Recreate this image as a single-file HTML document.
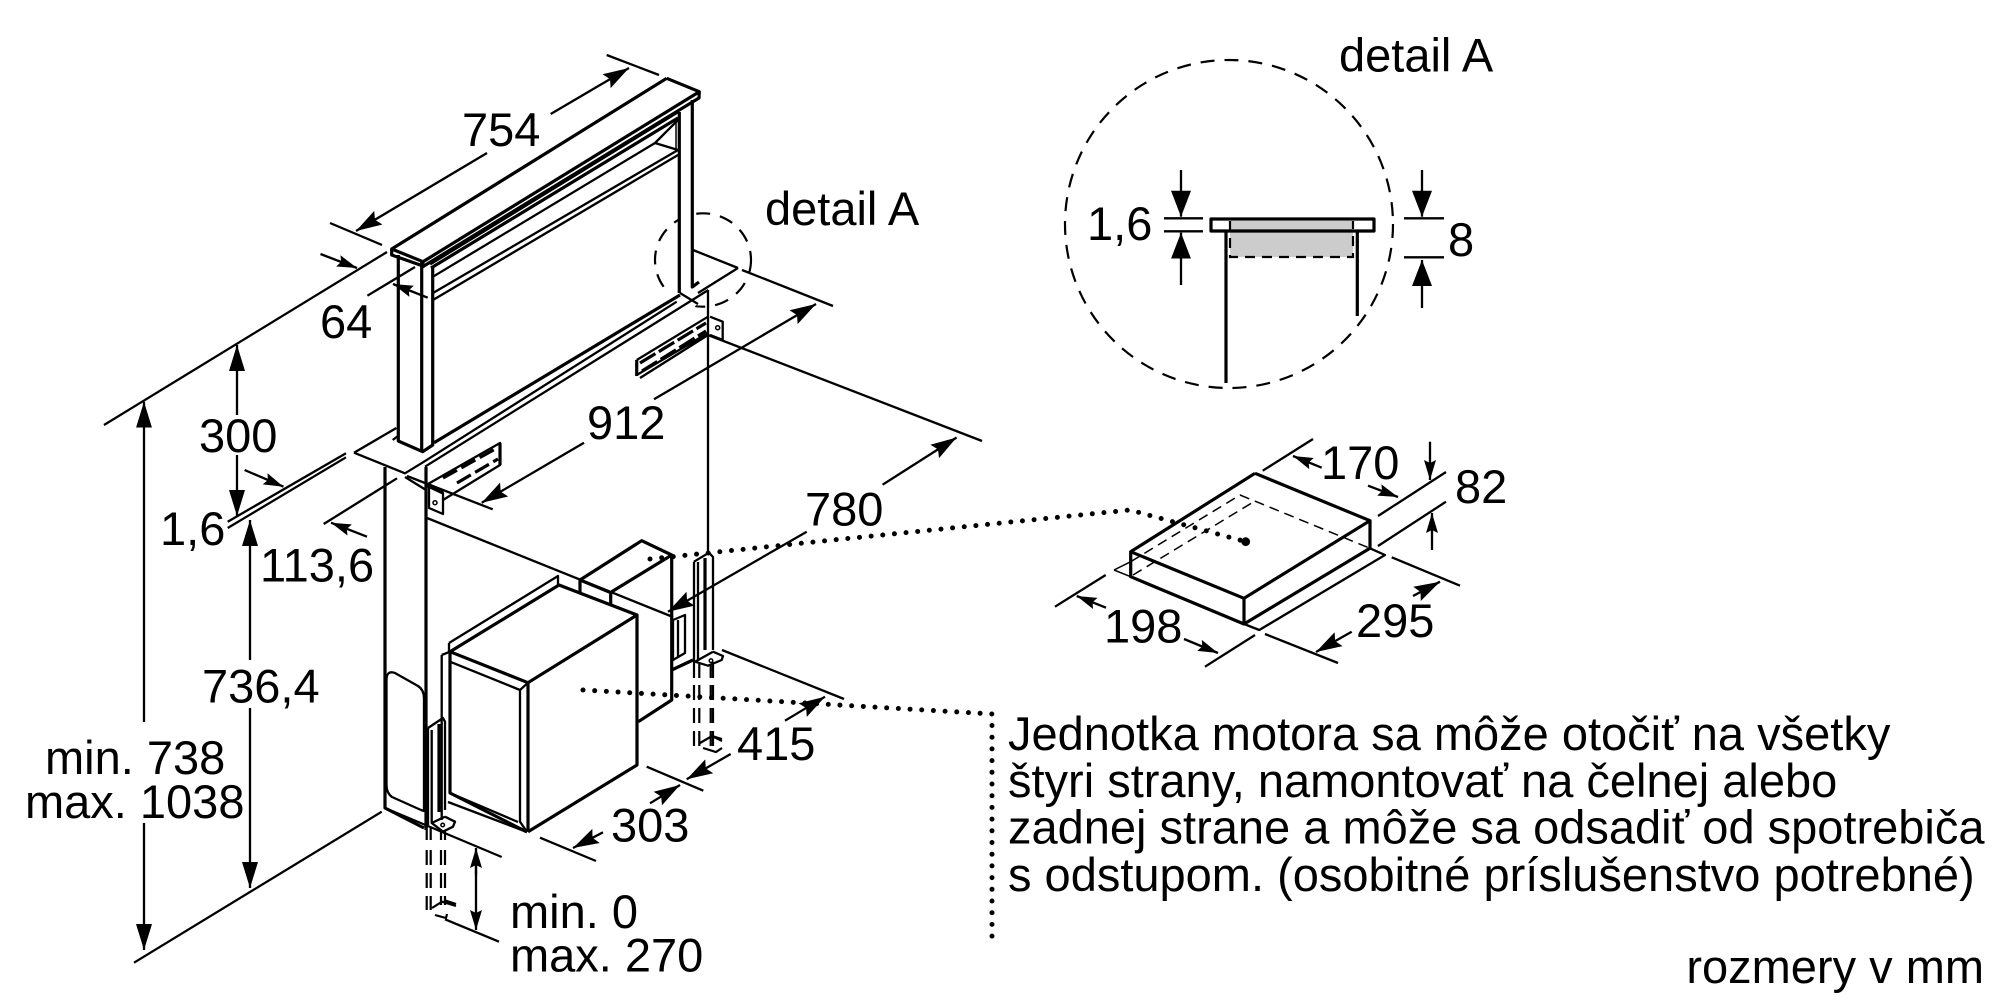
<!DOCTYPE html>
<html><head><meta charset="utf-8"><title>detail</title>
<style>
html,body{margin:0;padding:0;background:#fff;width:2000px;height:1000px;overflow:hidden}
svg{display:block}
text{font-family:"Liberation Sans",Arial,sans-serif;font-size:47px;fill:#000}
.k{stroke:#000;fill:none;stroke-width:3.2;stroke-linejoin:round}
.t{stroke:#000;fill:none;stroke-width:2.3;stroke-linejoin:round}
.h{stroke:#000;fill:none;stroke-width:1.5}
.d{stroke:#000;fill:none;stroke-width:2.2}
.o{stroke:#000;fill:none;stroke-width:5;stroke-linecap:round;stroke-dasharray:0 11.7}
</style></head><body>
<svg width="2000" height="1000" viewBox="0 0 2000 1000" xmlns="http://www.w3.org/2000/svg">
<defs>
<marker id="b" markerUnits="userSpaceOnUse" markerWidth="30" markerHeight="22" refX="26" refY="11" orient="auto"><path d="M0,3 L26,11 L0,19 L4,11z" fill="#000"/></marker>
<marker id="v" markerUnits="userSpaceOnUse" markerWidth="30" markerHeight="22" refX="26" refY="11" orient="auto"><path d="M0,3 L26,11 L0,19z" fill="#000"/></marker>
<marker id="s" markerUnits="userSpaceOnUse" markerWidth="24" markerHeight="16" refX="20" refY="8" orient="auto"><path d="M0,2 L20,8 L0,14 L3,8z" fill="#000"/></marker>
<marker id="w" markerUnits="userSpaceOnUse" markerWidth="30" markerHeight="26" refX="26" refY="13" orient="auto"><path d="M0,3 L26,13 L0,23z" fill="#000"/></marker>
</defs>

<!-- small detail A circle -->
<ellipse cx="703" cy="260" rx="48" ry="46.7" class="d" stroke-dasharray="14 10"/>
<rect x="680" y="200" width="12" height="90" fill="#fff"/>
<polygon points="665,296 690,316 696,305 712,285 680,270" fill="#fff"/>

<!-- hood -->
<path class="k" d="M666.7,78.3 L699.3,91.7 L699,98 L422.7,266.7 L423,261.7 L391.7,249 L391.7,255 L423,266 M391.7,249 L666.7,78.3 M423,261.7 L699.3,91.7"/>
<path class="k" d="M398.3,255 V441 L422.7,451.7 L432.7,445 V266 M421.7,262 V451 M679.3,112 V293 M692.3,100 V287 L699,282"/>
<path class="k" d="M430,264 L678,111.7 M431,268 L678,118"/>
<path class="t" d="M433,276.7 L655,143 L678,120 M433,293 L678,150 M433,300 L678,155 M655,143 L678,150"/>
<path class="h" d="M676,118 V150"/>
<path class="t" d="M392.7,440 L398,436"/>

<!-- worktop -->
<path class="t" d="M354,452.7 L396.4,428 M354,452.7 L405,473.3 L424,461.7 L676.7,301.7 M425,466.7 L708.3,290"/>
<path class="k" d="M434,442.7 L680,295"/>
<path class="t" d="M680,293 L698,304 M698,293 L738,268 M693,250 L738,268"/>
<path class="t" d="M742,270 L833,306"/>

<!-- cabinet -->
<path class="k" d="M385,467 V808 L424,828"/>
<path class="k" d="M426,467 V830"/>
<path class="t" d="M708,290 V555"/>
<path class="t" d="M385,808 L501.7,857"/>
<path class="t" d="M386.5,680 Q386.5,670 395,673 L418,686 Q424,690 424,698 V811 L421,810 L392,797 Q386.5,793 386.5,785z"/>
<path class="t" d="M427,518 L673,617"/>
<path class="t" d="M405,477 L426,490"/>

<!-- left plate strip -->
<path class="t" d="M428,484 L500,443 V465 L443,500"/>
<path class="k" stroke-dasharray="16 5" d="M443,478 L497,448 M457,483 L498,459"/>
<path class="k" d="M500,443 V465"/>
<path class="t" d="M429,486.7 L443,493 V514 L429,508z"/><circle cx="435" cy="502.7" r="2" class="h"/>
<path class="k" d="M426,485 L443,493"/>
<!-- right plate strip -->
<path class="t" d="M636.7,360 L708,316.7 M636.7,375 L708,333 M640,378 L708,335"/>
<path class="k" d="M636.7,360 V376"/>
<path class="k" stroke-dasharray="18 4" d="M640,363 L706,323 M642,371 L706,331"/>
<path class="t" d="M710,316.7 L722.7,321.7 V340 L710,335"/><circle cx="717.7" cy="327.7" r="2" class="h"/>

<!-- rear duct -->
<path class="k" d="M580,580 L641.7,540.7 L671.7,555 L611.7,591.7 M580,580 V592 M610.7,593 V604 M671.7,555 V700 L638.3,721.7 M671.7,670 L693,660"/>
<path class="k" d="M580,580 L611.7,593"/>
<path class="t" d="M673,620 L685,615 V653 L673,660z M678,620 V657"/>

<!-- motor box -->
<path class="t" d="M441.7,655 L450,651.7 M441.7,655 V820 M449,643 L558,576 V585 M449,643 V652"/>
<path class="k" d="M450,651.7 L559,585 L637,615 L528,682.7 L450,651.7 M637,615 V765 L528,831.7 M528,682.7 V831.7 M450,651.7 V793 L527,832"/>
<path class="t" d="M450,661.7 L520,690 L528,682.7 M520,690 V821.7 L527,832 M448,802 L527,832 M450,793 L518,822"/>

<!-- right tall bracket -->
<path class="t" d="M694,561.7 L709,552.7 L713,557 V650 M694,561.7 V662 M698,562 V660 M713,651.7 L723,656 L721.7,660 L708,665.7 L695,661.7 L713,651.7"/>
<path class="k" d="M705,558 V650"/><circle cx="711" cy="660.7" r="1.8" class="h"/>
<path class="d" d="M694,662 V678 M699.3,664 V678 M710.7,665 V678 M713,662 V678"/>
<path class="d" stroke-dasharray="15 8" d="M694,685 V746 M699.3,685 V746 M710.7,685 V746 M713,685 V746"/>
<path class="d" d="M700,743 L712,736 L722,741 M712,736 L722,739 M703,748 L716,752 L722,748"/>

<!-- left low bracket -->
<path class="t" d="M428,728 L443,718 L445,721.7 V810 M428,728 V825 M431.7,730 V823 M445,816.7 L455,821.7 L453,826.7 L443,831.7 L431.7,823 L445,816.7"/>
<path class="k" d="M439,724 V812"/><circle cx="442.7" cy="825" r="1.8" class="h"/>
<path class="d" d="M426.7,825 V840 M430.7,827 V840 M441,832 V840 M445,830 V840"/>
<path class="d" stroke-dasharray="15 8" d="M426.7,850 V910 M430.7,850 V910 M441,850 V905 M445,850 V905"/>
<path class="d" d="M432,908 L442,901.7 L456,906 M444,900 L456,904 M435,915 L446,918 L447,914"/>

<!-- detail circle dimensions ext lines on main -->
<path class="t" d="M708,335 L982,441"/>
<path class="t" d="M722,650 L844,699"/>

<!-- ext lines & dims, main -->
<g class="t">
<path d="M606.7,55 L659,75 M330,223 L382,245 M387,252 L104,425 M415,267 L367.4,295.7"/>
<path d="M346,453.3 L227.7,521.7 M346,457.3 L227.7,528 M323.7,524 L397,478.3 M381.7,811.7 L134,962.7"/>
<path d="M407,476 L492.7,509.3 M646.7,766.7 L703.3,790.7 M540,837.7 L596,861 M445,919.3 L499,941.7"/>
</g>
<g class="t">
<path d="M550.7,114 L629,68" marker-end="url(#b)"/>
<path d="M487,153 L356,231" marker-end="url(#b)"/>
<path d="M320.5,254 L357,268" marker-end="url(#s)"/>
<path d="M427.7,297.7 L393,284" marker-end="url(#s)"/>
<path d="M237,415 V345" marker-end="url(#v)"/>
<path d="M237,455 V516" marker-end="url(#v)"/>
<path d="M144,722 V401.7" marker-end="url(#v)"/>
<path d="M144,823 V950" marker-end="url(#v)"/>
<path d="M250,660 V520" marker-end="url(#v)"/>
<path d="M250,708 V888" marker-end="url(#v)"/>
<path d="M244.6,470 L283.5,486.7" marker-end="url(#s)"/>
<path d="M367,536.7 L331,522.7" marker-end="url(#s)"/>
<path d="M584,442.7 L481.7,502.7" marker-end="url(#b)"/>
<path d="M654,399.3 L816,304" marker-end="url(#b)"/>
<path d="M882.6,484.7 L956.6,437.5" marker-end="url(#b)"/>
<path d="M806.7,531.7 L668,611.7" marker-end="url(#b)"/>
<path d="M785,720.7 L825,696.7" marker-end="url(#b)"/>
<path d="M730.7,754 L686.7,779.3" marker-end="url(#b)"/>
<path d="M650,803.3 L680,785" marker-end="url(#b)"/>
<path d="M603,832.3 L573,848" marker-end="url(#b)"/>
<path d="M476,875 V848" marker-end="url(#s)"/>
<path d="M476,865 V930" marker-end="url(#s)"/>
</g>

<!-- dotted leaders -->
<path class="o" d="M650,559 L833,540 L1130,510 L1245.7,541.7"/>
<circle cx="1245.7" cy="541.7" r="4.4" fill="#000"/>
<path class="o" d="M583,690 L992,714 V937"/>

<!-- detail A big -->
<circle cx="1229" cy="224" r="164" class="d" stroke-dasharray="14 10"/>
<rect x="1230" y="221" width="123" height="36" fill="#ccc"/>
<path class="d" stroke-dasharray="10 7" d="M1230,221 V257 H1353 V221"/>
<rect x="1211" y="219" width="163" height="12" class="k" fill="none"/>
<path class="k" d="M1226,231 V383 M1357.3,231 V316"/>
<path class="t" d="M1164,218.3 H1203 M1164,231.3 H1203 M1404,218.3 H1444 M1404,257.3 H1444"/>
<g class="t">
<path d="M1181,170 V216.7" marker-end="url(#w)"/>
<path d="M1181,285 V232.7" marker-end="url(#w)"/>
<path d="M1422,170 V216.7" marker-end="url(#w)"/>
<path d="M1422,308 V260" marker-end="url(#w)"/>
</g>

<!-- small unit -->
<path class="h" stroke-dasharray="10 6" d="M1130.7,561.7 L1240,495 L1370,548.3 M1133,575 L1251.7,503"/>
<path class="k" d="M1255,473.3 L1370,520.7 L1244,598.3 L1130.7,551.7 L1255,473.3 M1370,520.7 V548.3 M1244,598.3 V624 M1130.7,551.7 V576.7 L1244,624 L1370,548.3"/>
<path class="t" d="M1370,548.3 L1385,555 L1259.3,630 L1244,624"/>
<path class="h" d="M1114,570 L1130.7,561.7 M1114,570 L1130.7,576.7"/>
<g class="t">
<path d="M1262.7,470.7 L1313,439 M1378,516 L1446,472 M1378,546 L1446,501.7 M1055,606.7 L1105.7,575 M1205,666.7 L1255,635 M1265,634 L1338,663 M1391.7,557.3 L1460,585.7"/>
<path d="M1321.7,467.7 L1293,456" marker-end="url(#s)"/>
<path d="M1368,485.7 L1398,497" marker-end="url(#s)"/>
<path d="M1430,441.7 V480" marker-end="url(#s)"/>
<path d="M1432,550 V513" marker-end="url(#s)"/>
<path d="M1106,607.7 L1076.7,596" marker-end="url(#s)"/>
<path d="M1184,639 L1218,653" marker-end="url(#s)"/>
<path d="M1351.7,631.7 L1316,652" marker-end="url(#b)"/>
<path d="M1413,596 L1440,581.7" marker-end="url(#b)"/>
</g>

<!-- labels -->
<text x="462" y="146">754</text>
<text x="320" y="338">64</text>
<text x="199" y="452">300</text>
<text x="587" y="439">912</text>
<text x="160" y="545">1,6</text>
<text x="260" y="581.7">113,6</text>
<text x="202" y="702.7">736,4</text>
<text x="45" y="774">min. 738</text>
<text x="25" y="818">max. 1038</text>
<text x="611" y="841.7">303</text>
<text x="737" y="760">415</text>
<text x="805" y="525.5">780</text>
<text x="510" y="928">min. 0</text>
<text x="510" y="971.7">max. 270</text>
<text x="765" y="225">detail A</text>
<text x="1339" y="71.7">detail A</text>
<text x="1087" y="240">1,6</text>
<text x="1448" y="256">8</text>
<text x="1321" y="479">170</text>
<text x="1455" y="503">82</text>
<text x="1104" y="642.7">198</text>
<text x="1356" y="637">295</text>
<text x="1008" y="750">Jednotka motora sa môže otočiť na všetky</text>
<text x="1008" y="797">štyri strany, namontovať na čelnej alebo</text>
<text x="1008" y="843.5">zadnej strane a môže sa odsadiť od spotrebiča</text>
<text x="1008" y="891">s odstupom. (osobitné príslušenstvo potrebné)</text>
<text x="1984" y="983" text-anchor="end">rozmery v mm</text>
</svg>
</body></html>
